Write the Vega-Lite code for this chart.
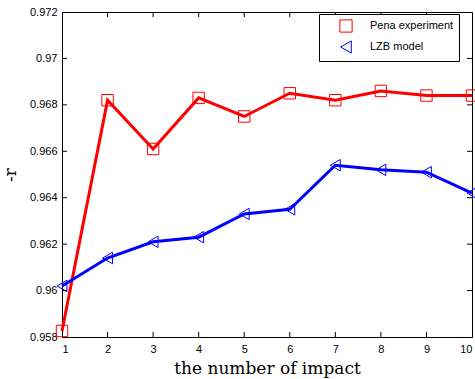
{
  "$schema": "https://vega.github.io/schema/vega-lite/v6.json",
  "autosize": "none",
  "width": 410,
  "height": 325,
  "padding": {"left": 62, "top": 12, "right": 3, "bottom": 42},
  "background": "white",
  "config": {
    "view": {"stroke": "black", "strokeWidth": 1},
    "axis": {"grid": false, "domainColor": "black", "tickColor": "black", "labelColor": "black", "labelFont": "Liberation Sans", "labelFontSize": 11, "titleFont": "DejaVu Serif", "titleFontWeight": "normal", "titleColor": "black"}
  },
  "datasets": {
    "series": [
      {"x": 1, "y": 0.95826, "s": "Pena experiment"},
      {"x": 2, "y": 0.9682, "s": "Pena experiment"},
      {"x": 3, "y": 0.9661, "s": "Pena experiment"},
      {"x": 4, "y": 0.9683, "s": "Pena experiment"},
      {"x": 5, "y": 0.9675, "s": "Pena experiment"},
      {"x": 6, "y": 0.9685, "s": "Pena experiment"},
      {"x": 7, "y": 0.9682, "s": "Pena experiment"},
      {"x": 8, "y": 0.9686, "s": "Pena experiment"},
      {"x": 9, "y": 0.9684, "s": "Pena experiment"},
      {"x": 10, "y": 0.9684, "s": "Pena experiment"},
      {"x": 1, "y": 0.9602, "s": "LZB model"},
      {"x": 2, "y": 0.9614, "s": "LZB model"},
      {"x": 3, "y": 0.9621, "s": "LZB model"},
      {"x": 4, "y": 0.9623, "s": "LZB model"},
      {"x": 5, "y": 0.9633, "s": "LZB model"},
      {"x": 6, "y": 0.9635, "s": "LZB model"},
      {"x": 7, "y": 0.9654, "s": "LZB model"},
      {"x": 8, "y": 0.9652, "s": "LZB model"},
      {"x": 9, "y": 0.9651, "s": "LZB model"},
      {"x": 10, "y": 0.9642, "s": "LZB model"}
    ],
    "xticks": [{"v": 2}, {"v": 3}, {"v": 4}, {"v": 5}, {"v": 6}, {"v": 7}, {"v": 8}, {"v": 9}],
    "yticks": [{"v": 0.96}, {"v": 0.962}, {"v": 0.964}, {"v": 0.966}, {"v": 0.968}, {"v": 0.97}]
  },
  "layer": [
    {"data": {"name": "series"},
     "transform": [{"filter": "datum.s === 'Pena experiment'"}],
     "mark": {"type": "line", "strokeWidth": 3, "clip": false, "color": "#ff0000"},
     "encoding": {
       "x": {"field": "x", "type": "quantitative", "scale": {"domain": [1, 10], "nice": false}, "axis": {"values": [1,2,3,4,5,6,7,8,9,10], "title": "the number of impact", "titleFontSize": 17, "titlePadding": 6, "ticks": false, "labelPadding": 6}},
       "y": {"field": "y", "type": "quantitative", "scale": {"domain": [0.958, 0.972], "nice": false, "zero": false}, "axis": {"values": [0.958,0.96,0.962,0.964,0.966,0.968,0.97,0.972], "format": ".3~f", "title": "-r", "titleFontSize": 17, "titlePadding": 10, "ticks": false, "labelPadding": 5}}
     }},
    {"data": {"name": "series"},
     "transform": [{"filter": "datum.s === 'LZB model'"}],
     "mark": {"type": "line", "strokeWidth": 3, "clip": false, "color": "#0000ff"},
     "encoding": {
       "x": {"field": "x", "type": "quantitative"},
       "y": {"field": "y", "type": "quantitative"}
     }},
    {"data": {"name": "series"},
     "mark": {"type": "point", "filled": false, "strokeWidth": 1, "clip": false, "opacity": 1},
     "encoding": {
       "x": {"field": "x", "type": "quantitative"},
       "y": {"field": "y", "type": "quantitative"},
       "color": {"field": "s", "type": "nominal", "scale": {"domain": ["Pena experiment", "LZB model"], "range": ["#ff0000", "#0000ff"]}, "legend": {"title": null, "orient": "none", "legendX": 257, "legendY": 2, "strokeColor": "black", "fillColor": "white", "padding": 5, "labelFont": "Liberation Sans", "labelFontSize": 11, "labelColor": "black", "symbolSize": 150, "symbolStrokeWidth": 1, "symbolOffset": 15, "labelOffset": 17, "rowPadding": 3, "labelLimit": 200}},
       "shape": {"field": "s", "type": "nominal", "scale": {"domain": ["Pena experiment", "LZB model"], "range": ["square", "triangle-left"]}},
       "size": {"value": 130}
     }},
    {"data": {"name": "xticks"},
     "mark": {"type": "rule", "color": "black", "strokeWidth": 1},
     "encoding": {"x": {"field": "v", "type": "quantitative"}, "y": {"datum": 0.958}, "y2": {"datum": 0.95822}}},
    {"data": {"name": "xticks"},
     "mark": {"type": "rule", "color": "black", "strokeWidth": 1},
     "encoding": {"x": {"field": "v", "type": "quantitative"}, "y": {"datum": 0.972}, "y2": {"datum": 0.97178}}},
    {"data": {"name": "yticks"},
     "mark": {"type": "rule", "color": "black", "strokeWidth": 1},
     "encoding": {"y": {"field": "v", "type": "quantitative"}, "x": {"datum": 1}, "x2": {"datum": 1.11}}},
    {"data": {"name": "yticks"},
     "mark": {"type": "rule", "color": "black", "strokeWidth": 1},
     "encoding": {"y": {"field": "v", "type": "quantitative"}, "x": {"datum": 10}, "x2": {"datum": 9.89}}}
  ]
}
